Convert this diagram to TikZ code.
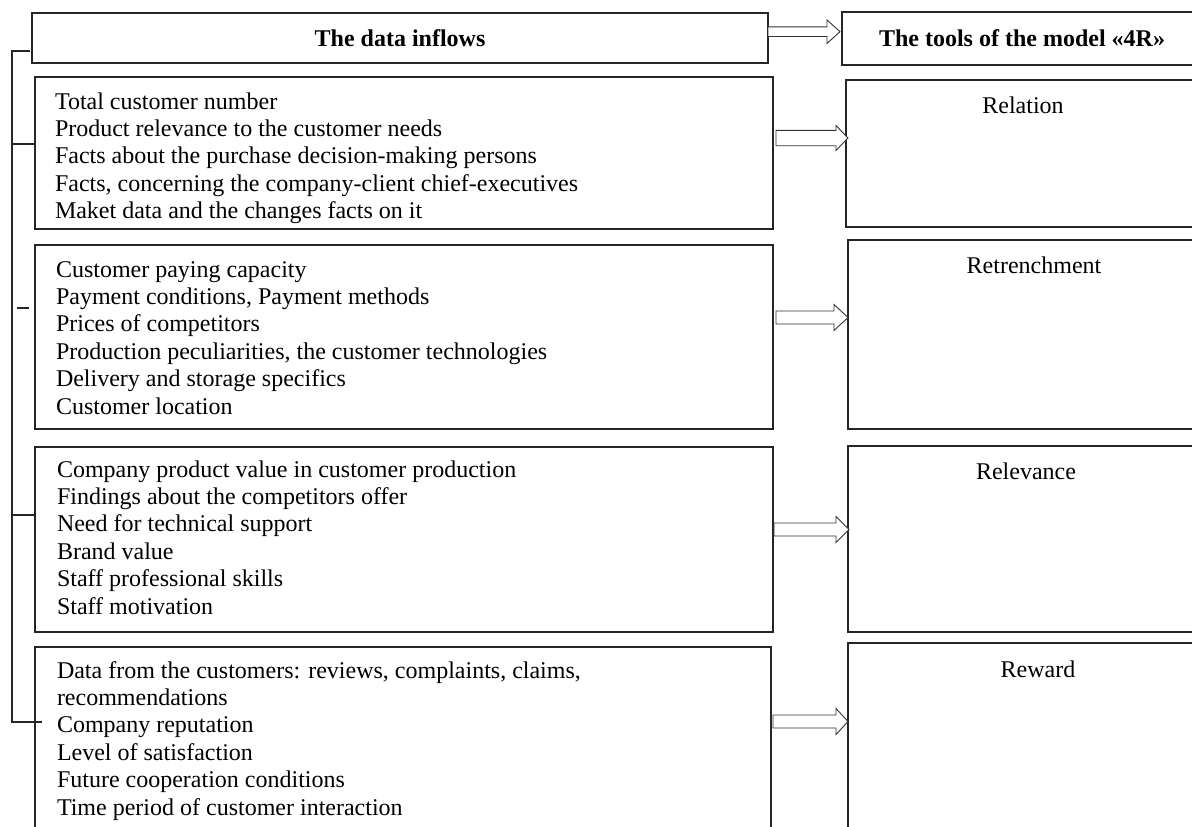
\documentclass[tikz,border=0pt]{standalone}
\usepackage{fontspec}
\setmainfont{Liberation Serif}
\usetikzlibrary{calc}
\tikzset{
  box/.style={draw=black!85, line width=0.6pt, inner sep=0pt, outer sep=0pt, anchor=north west},
  hbox/.style={box, font=\fontsize{12}{13.7}\selectfont\bfseries},
  arrowline/.style={draw=black!80, line width=0.45pt, fill=white, line join=miter},
  brk/.style={draw=black!85, line width=0.6pt},
  txt/.style={inner sep=0pt, outer sep=0pt, font=\fontsize{12}{13.7}\selectfont},
}
\newcommand\lineblock[1]{\vtop{\baselineskip=13.7pt\lineskiplimit=-10pt\lineskip=0pt #1}}
% #1 src node, #2 tgt node, #3 y, #4 start gap, #5 tip gap, #6 shaft half, #7 head half, #8 head length
\newcommand\blockarrow[8]{%
  \coordinate (ba-s) at (#1.east |- 0,#3);
  \coordinate (ba-t) at ($(#2.west |- 0,#3)+(-#5,0)$);
  \draw[arrowline] ($(ba-s)+(#4,-#6)$) -- ($(ba-t)+(-#8,-#6)$) -- ($(ba-t)+(-#8,-#7)$) -- (ba-t)
     -- ($(ba-t)+(-#8,#7)$) -- ($(ba-t)+(-#8,#6)$) -- ($(ba-s)+(#4,#6)$) -- cycle;
}
\begin{document}
\begin{tikzpicture}[x=0.5pt,y=-0.5pt]
\useasboundingbox (0,0) rectangle (1192,826);
\clip (0,0) rectangle (1192,826);

% headers
\node[hbox, minimum width=368pt, minimum height=25pt] (H1) at (32,13) {The data inflows};
\node[hbox, minimum width=180pt, minimum height=26.5pt] (H2) at (842,12) {The tools of the model «4R»};

% left boxes
\node[box, minimum width=369pt, minimum height=76pt] (L1) at (35,77) {};
\node[box, minimum width=369pt, minimum height=92pt] (L2) at (35,245) {};
\node[box, minimum width=369pt, minimum height=92.5pt] (L3) at (35,447) {};
\node[box, minimum width=368pt, minimum height=100pt] (L4) at (35,647) {};

% right boxes
\node[box, minimum width=178pt, minimum height=73.5pt] (R1) at (846,80) {};
\node[box, minimum width=177pt, minimum height=94.5pt] (R2) at (848,240) {};
\node[box, minimum width=177pt, minimum height=93pt] (R3) at (848,446) {};
\node[box, minimum width=177pt, minimum height=102pt] (R4) at (848,643) {};

% right labels
\node[txt, anchor=base] (R1t) at (1023,113) {Relation};
\node[txt, anchor=base] (R2t) at (1034,273) {Retrenchment};
\node[txt, anchor=base] (R3t) at (1026,479) {Relevance};
\node[txt, anchor=base] (R4t) at (1038,677) {Reward};

% left texts
\node[txt, anchor=base west] (L1t) at (55,109) {\lineblock{%
  \hbox{Total customer number}%
  \hbox{Product relevance to the customer needs}%
  \hbox{Facts about the purchase decision-making persons}%
  \hbox{Facts, concerning the company-client chief-executives}%
  \hbox{Maket data and the changes facts on it}}};
\node[txt, anchor=base west] (L2t) at (56,277) {\lineblock{%
  \hbox{Customer paying capacity}%
  \hbox{Payment conditions, Payment methods}%
  \hbox{Prices of competitors}%
  \hbox{Production peculiarities, the customer technologies}%
  \hbox{Delivery and storage specifics}%
  \hbox{Customer location}}};
\node[txt, anchor=base west] (L3t) at (57,477) {\lineblock{%
  \hbox{Company product value in customer production}%
  \hbox{Findings about the competitors offer}%
  \hbox{Need for technical support}%
  \hbox{Brand value}%
  \hbox{Staff professional skills}%
  \hbox{Staff motivation}}};
\node[txt, anchor=base west] (L4t) at (57,678) {\lineblock{%
  \hbox{Data from the customers: reviews, complaints, claims,}%
  \hbox{recommendations}%
  \hbox{Company reputation}%
  \hbox{Level of satisfaction}%
  \hbox{Future cooperation conditions}%
  \hbox{Time period of customer interaction}}};

% block arrows
\blockarrow{H1}{H2}{31.7}{0}{2}{4.8}{11.7}{13}
\blockarrow{L1}{R1}{138}{3}{-2}{7.7}{12.5}{12}
\blockarrow{L2}{R2}{317.5}{3}{0}{6.5}{13}{14}
\blockarrow{L3}{R3}{529.5}{1}{-1}{6.5}{13}{13}
\blockarrow{L4}{R4}{721.5}{2}{0}{6.5}{13}{12}

% left bracket
\coordinate (b0) at (12,51);
\coordinate (b4) at (12,722);
\draw[brk] (30,51) -- (b0) -- (b4) -- (42,722);
\draw[brk] (12,144) -- (L1.west |- 0,144);
\draw[brk] (17,308) -- (29,308);
\draw[brk] (12,515) -- (L3.west |- 0,515);
\end{tikzpicture}
\end{document}
